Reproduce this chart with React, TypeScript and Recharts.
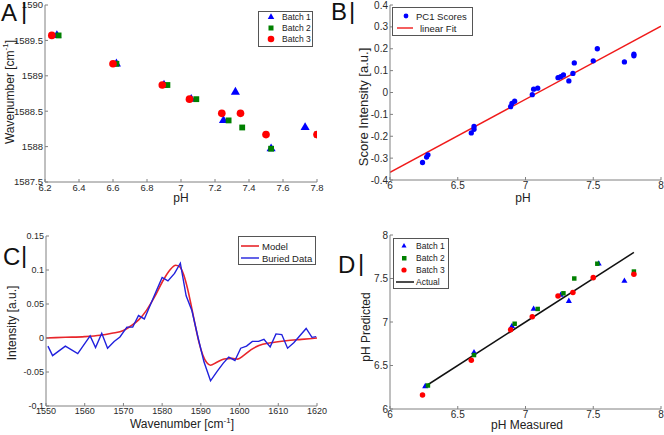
import React from 'react';
import { ComposedChart, Scatter, Line, XAxis, YAxis, Symbols } from 'recharts';

const FONT = '"Liberation Sans", Arial, Helvetica, sans-serif';
const FRAME = '#808080';
const TICKC = '#2a2a2a';
const TITLEC = '#222222';
const BLUE = '#0000ff';
const GREEN = '#008000';
const RED = '#ff0000';

// ---------- Panel A: band position vs pH ----------
const phA_batch1 = [6.27, 6.62, 6.9, 7.06, 7.25, 7.32, 7.53, 7.73];
const wnA_batch1 = [1589.57, 1589.17, 1588.87, 1588.67, 1588.37, 1588.77, 1587.97, 1588.27];
const phA_batch2 = [6.28, 6.62, 6.92, 7.09, 7.28, 7.36, 7.53, 7.8];
const wnA_batch2 = [1589.57, 1589.17, 1588.87, 1588.67, 1588.37, 1588.27, 1587.97, 1588.17];
const phA_batch3 = [6.24, 6.6, 6.89, 7.05, 7.24, 7.35, 7.5, 7.8];
const wnA_batch3 = [1589.57, 1589.17, 1588.87, 1588.67, 1588.47, 1588.47, 1588.17, 1588.17];
const xTicksA = [6.2, 6.4, 6.6, 6.8, 7, 7.2, 7.4, 7.6, 7.8];
const yTicksA = [1587.5, 1588, 1588.5, 1589, 1589.5, 1590];

// ---------- Panel B: PC1 scores vs pH ----------
const phB = [6.24, 6.27, 6.28, 6.6, 6.62, 6.62, 6.89, 6.9, 6.92, 7.05, 7.06, 7.09, 7.24, 7.26, 7.28, 7.32, 7.35, 7.36, 7.5, 7.53, 7.73, 7.8, 7.8];
const scoreB = [-0.32, -0.295, -0.285, -0.185, -0.155, -0.168, -0.065, -0.05, -0.04, -0.01, 0.015, 0.02, 0.068, 0.072, 0.08, 0.053, 0.087, 0.135, 0.145, 0.2, 0.14, 0.168, 0.175];
const fitPhB = [6, 8];
const fitScoreB = [-0.365, 0.303];
const xTicksB = [6, 6.5, 7, 7.5, 8];
const yTicksB = [-0.4, -0.3, -0.2, -0.1, 0, 0.1, 0.2, 0.3, 0.4];

// ---------- Panel C: model vs buried data ----------
const modelWn = [1550, 1555, 1560, 1564, 1567, 1570, 1572, 1574, 1576, 1578, 1580, 1582, 1583.5, 1584.5, 1585.5, 1586.5, 1587.5, 1588.5, 1589.5, 1590.5, 1591.5, 1592.5, 1594, 1596, 1598, 1599.5, 1601, 1603, 1605, 1608, 1612, 1616, 1620];
const modelInt = [0, 0.001, 0.002, 0.004, 0.007, 0.011, 0.018, 0.027, 0.041, 0.06, 0.082, 0.1, 0.107, 0.105, 0.094, 0.074, 0.048, 0.02, -0.006, -0.025, -0.036, -0.04, -0.036, -0.031, -0.03, -0.031, -0.026, -0.017, -0.011, -0.007, -0.004, -0.002, 0];
const dataWn = [1550.5, 1551.7, 1555.0, 1558.2, 1561.4, 1562.8, 1564.4, 1565.9, 1567.6, 1569.1, 1570.9, 1572.4, 1573.9, 1575.4, 1578.4, 1580.0, 1581.5, 1583.2, 1584.7, 1586.2, 1587.7, 1589.3, 1590.8, 1592.5, 1594.2, 1595.8, 1597.2, 1598.8, 1600.3, 1601.8, 1603.3, 1604.9, 1606.3, 1607.9, 1609.4, 1610.9, 1612.4, 1614.0, 1617.2, 1618.7, 1619.8];
const dataInt = [-0.012, -0.026, -0.012, -0.023, 0.003, -0.014, 0.007, -0.015, -0.005, 0.0015, 0.016, 0.016, 0.033, 0.028, 0.068, 0.089, 0.084, 0.095, 0.11, 0.062, 0.04, 0.0, -0.035, -0.063, -0.049, -0.037, -0.028, -0.033, -0.015, -0.012, -0.005, -0.005, -0.002, -0.013, 0.006, 0.005, -0.015, -0.007, 0.014, 0.001, 0.002];
const xTicksC = [1550, 1560, 1570, 1580, 1590, 1600, 1610, 1620];
const yTicksC = [-0.1, -0.05, 0, 0.05, 0.1, 0.15];

// ---------- Panel D: predicted vs measured pH ----------
const phMeasD1 = [6.26, 6.62, 6.9, 7.06, 7.26, 7.32, 7.54, 7.73];
const phPredD1 = [6.26, 6.65, 6.95, 7.15, 7.31, 7.24, 7.67, 7.47];
const phMeasD2 = [6.28, 6.62, 6.92, 7.09, 7.28, 7.36, 7.53, 7.8];
const phPredD2 = [6.27, 6.62, 6.98, 7.15, 7.33, 7.5, 7.67, 7.58];
const phMeasD3 = [6.24, 6.6, 6.89, 7.05, 7.24, 7.35, 7.5, 7.8];
const phPredD3 = [6.16, 6.56, 6.91, 7.06, 7.3, 7.34, 7.51, 7.55];
const actualMeas = [6.25, 7.8];
const actualPred = [6.25, 7.8];
const ticksD = [6, 6.5, 7, 7.5, 8];

const zip = (xs: number[], ys: number[]) => xs.map((x, i) => ({ x, y: ys[i] }));

const noTick = () => <g />;

const marker = (type: any, size: number, color: string) => (p: any) => (
  <Symbols cx={p.cx} cy={p.cy} type={type} size={size} fill={color} stroke="none" />
);

type PanelProps = {
  left: number; top: number; width: number; height: number;
  margin: { top: number; right: number; bottom: number; left: number };
  xDomain: [number, number]; xTicks: number[];
  yDomain: [number, number]; yTicks: number[];
  yWidth: number; fontSize: number;
  children?: React.ReactNode;
};

function Panel(props: PanelProps) {
  const { left, top, width, height, margin, xDomain, xTicks, yDomain, yTicks, yWidth, fontSize, children } = props;
  const tickStyle = { fill: TICKC, fontSize };
  return (
    <div style={{ position: 'absolute', left, top }}>
      <ComposedChart width={width} height={height} margin={margin}>
        <XAxis type="number" dataKey="x" domain={xDomain} ticks={xTicks} interval={0} allowDataOverflow
          height={20} tickSize={-3} tickMargin={5} stroke={FRAME} tick={tickStyle} />
        <XAxis xAxisId="top" orientation="top" type="number" dataKey="x" domain={xDomain} ticks={xTicks} interval={0}
          allowDataOverflow height={0} tickSize={-3} stroke={FRAME} tick={noTick} />
        <YAxis type="number" dataKey="y" domain={yDomain} ticks={yTicks} interval={0} allowDataOverflow
          width={yWidth} tickSize={-3} tickMargin={5} stroke={FRAME} tick={tickStyle} />
        <YAxis yAxisId="right" orientation="right" type="number" dataKey="y" domain={yDomain} ticks={yTicks} interval={0}
          allowDataOverflow width={0} tickSize={-3} stroke={FRAME} tick={noTick} />
        {children}
      </ComposedChart>
    </div>
  );
}

const tri = (x: number, y: number, s: number) =>
  `${x},${y - s * 0.58} ${x - s / 2},${y + s * 0.32} ${x + s / 2},${y + s * 0.32}`;

export default function App() {
  const cm = (
    <>
      <tspan>Wavenumber [cm</tspan>
      <tspan fontSize={8} dy={-5}>-1</tspan>
      <tspan dy={5}>]</tspan>
    </>
  );
  return (
    <div style={{ position: 'absolute', left: 0, top: 0, width: 664, height: 435, background: '#fff', overflow: 'hidden', fontFamily: FONT }}>
      {/* Panel A */}
      <Panel left={0} top={0} width={330} height={215} margin={{ top: 5, right: 13, bottom: 13, left: 0 }}
        xDomain={[6.2, 7.8]} xTicks={xTicksA} yDomain={[1587.5, 1590]} yTicks={yTicksA} yWidth={45} fontSize={9.5}>
        <Scatter data={zip(phA_batch1, wnA_batch1)} shape={marker('triangle', 36, BLUE)} isAnimationActive={false} />
        <Scatter data={zip(phA_batch2, wnA_batch2)} shape={marker('square', 34, GREEN)} isAnimationActive={false} />
        <Scatter data={zip(phA_batch3, wnA_batch3)} shape={marker('circle', 46, RED)} isAnimationActive={false} />
      </Panel>

      {/* Panel B */}
      <Panel left={330} top={0} width={334} height={215} margin={{ top: 5, right: 3, bottom: 15, left: 0 }}
        xDomain={[6, 8]} xTicks={xTicksB} yDomain={[-0.4, 0.4]} yTicks={yTicksB} yWidth={60} fontSize={10}>
        <Line data={zip(fitPhB, fitScoreB)} dataKey="y" type="linear" stroke="#f01a1a" strokeWidth={1.4} dot={false} isAnimationActive={false} />
        <Scatter data={zip(phB, scoreB)} shape={marker('circle', 22, BLUE)} isAnimationActive={false} />
      </Panel>

      {/* Panel C */}
      <Panel left={0} top={215} width={330} height={220} margin={{ top: 21, right: 13, bottom: 9, left: 0 }}
        xDomain={[1550, 1620]} xTicks={xTicksC} yDomain={[-0.1, 0.15]} yTicks={yTicksC} yWidth={46} fontSize={9}>
        <Line data={zip(modelWn, modelInt)} dataKey="y" type="monotone" stroke="#e8262b" strokeWidth={1.6} dot={false} isAnimationActive={false} />
        <Line data={zip(dataWn, dataInt)} dataKey="y" type="linear" stroke="#2020dd" strokeWidth={1.4} dot={false} isAnimationActive={false} />
      </Panel>

      {/* Panel D */}
      <Panel left={330} top={215} width={334} height={220} margin={{ top: 20, right: 3, bottom: 6, left: 0 }}
        xDomain={[6, 8]} xTicks={ticksD} yDomain={[6, 8]} yTicks={ticksD} yWidth={60} fontSize={10}>
        <Line data={zip(actualMeas, actualPred)} dataKey="y" type="linear" stroke="#111" strokeWidth={1.5} dot={false} isAnimationActive={false} />
        <Scatter data={zip(phMeasD1, phPredD1)} shape={marker('triangle', 16, BLUE)} isAnimationActive={false} />
        <Scatter data={zip(phMeasD2, phPredD2)} shape={marker('square', 20, GREEN)} isAnimationActive={false} />
        <Scatter data={zip(phMeasD3, phPredD3)} shape={marker('circle', 24, RED)} isAnimationActive={false} />
      </Panel>

      {/* Overlay: panel letters, axis titles, legends */}
      <svg width={664} height={435} style={{ position: 'absolute', left: 0, top: 0, pointerEvents: 'none' }} fontFamily={FONT}>
        {/* letters */}
        <g fill="#111" fontSize={24}>
          <text x={1} y={21}>A</text>
          <text x={21} y={19}>|</text>
          <text x={331} y={20}>B</text>
          <text x={349} y={19}>|</text>
          <text x={3} y={265}>C</text>
          <text x={21} y={263}>|</text>
          <text x={338} y={273}>D</text>
          <text x={358} y={271}>|</text>
        </g>

        {/* axis titles */}
        <g fill={TITLEC} fontSize={12}>
          <text x={181} y={202} textAnchor="middle">pH</text>
          <text x={523} y={202} textAnchor="middle">pH</text>
          <text x={182} y={428} textAnchor="middle">{cm}</text>
          <text x={527} y={429} textAnchor="middle">pH Measured</text>
          <text transform="translate(10,92) rotate(-90)" textAnchor="middle" dominantBaseline="central">{cm}</text>
          <text transform="translate(363,107) rotate(-90)" textAnchor="middle" dominantBaseline="central" fontSize={13}>Score Intensity [a.u.]</text>
          <text transform="translate(12,323) rotate(-90)" textAnchor="middle" dominantBaseline="central">Intensity [a.u.]</text>
          <text transform="translate(366,327) rotate(-90)" textAnchor="middle" dominantBaseline="central">pH Predicted</text>
        </g>

        {/* Legend A */}
        <g fontSize={8.5} fill="#222">
          <rect x={258.5} y={11.5} width={54} height={35} fill="#fff" stroke="#555" />
          <polygon points={tri(271, 17, 6.5)} fill={BLUE} />
          <text x={282} y={20}>Batch 1</text>
          <rect x={268.5} y={25.5} width={5} height={5} fill={GREEN} />
          <text x={282} y={31}>Batch 2</text>
          <circle cx={271} cy={39} r={3.3} fill={RED} />
          <text x={282} y={42}>Batch 3</text>
        </g>

        {/* Legend B */}
        <g fontSize={9.5} fill="#222">
          <rect x={392.5} y={7.5} width={80} height={28} fill="#fff" stroke="#555" />
          <circle cx={406} cy={16} r={2.4} fill={BLUE} />
          <text x={416} y={19.5}>PC1 Scores</text>
          <line x1={397} y1={28} x2={413} y2={28} stroke="#f01a1a" strokeWidth={1.4} />
          <text x={420} y={31.5}>linear Fit</text>
        </g>

        {/* Legend C */}
        <g fontSize={9.5} fill="#222">
          <rect x={238.5} y={236.5} width={77} height={28} fill="#fff" stroke="#555" />
          <line x1={241} y1={246} x2={259} y2={246} stroke="#e8262b" strokeWidth={1.6} />
          <text x={262} y={249.5}>Model</text>
          <line x1={241} y1={258} x2={259} y2={258} stroke="#2020dd" strokeWidth={1.4} />
          <text x={262} y={261.5}>Buried Data</text>
        </g>

        {/* Legend D */}
        <g fontSize={8.5} fill="#222">
          <rect x={393.5} y={238.5} width={55} height={50} fill="#fff" stroke="#555" />
          <polygon points={tri(404, 246, 5)} fill={BLUE} />
          <text x={416} y={249}>Batch 1</text>
          <rect x={402} y={256} width={4.5} height={4.5} fill={GREEN} />
          <text x={416} y={261}>Batch 2</text>
          <circle cx={404} cy={270} r={2.6} fill={RED} />
          <text x={416} y={273}>Batch 3</text>
          <line x1={396} y1={282} x2={414} y2={282} stroke="#111" strokeWidth={1.5} />
          <text x={416} y={285}>Actual</text>
        </g>
      </svg>
    </div>
  );
}
